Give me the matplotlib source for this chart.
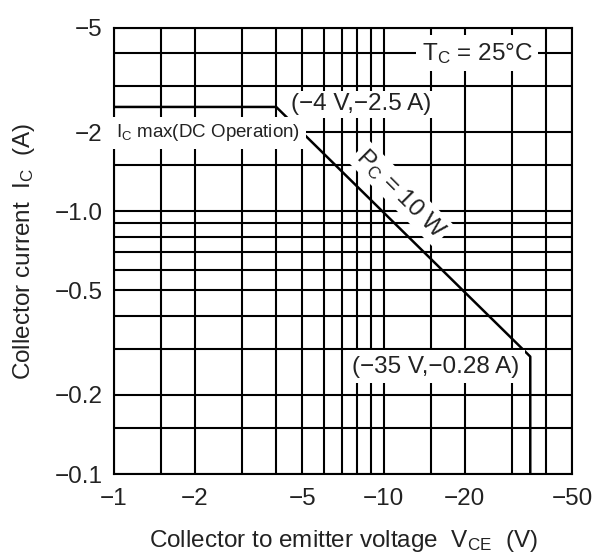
import matplotlib
matplotlib.use("Agg")
import matplotlib.pyplot as plt
from matplotlib.ticker import FixedLocator, NullFormatter

plt.rcParams['font.family'] = ['Liberation Sans', 'DejaVu Sans']
plt.rcParams['mathtext.fontset'] = 'custom'
plt.rcParams['mathtext.rm'] = 'Liberation Sans'
plt.rcParams['mathtext.it'] = 'Liberation Sans'

# SOA boundary data (magnitudes; labels show negative values)
vce = [1, 4, 35, 35]
ic = [2.5, 2.5, 0.28, 0.1]

x_ticks = [1, 2, 5, 10, 20, 50]
x_labels = ['\u22121', '\u22122', '\u22125', '\u221210', '\u221220', '\u221250']
y_ticks = [0.1, 0.2, 0.5, 1.0, 2, 5]
y_labels = ['\u22120.1', '\u22120.2', '\u22120.5', '\u22121.0', '\u22122', '\u22125']
x_grid = [1.5, 3, 4, 6, 7, 8, 9, 15, 30, 40]
y_grid = [0.15, 0.3, 0.4, 0.6, 0.7, 0.8, 0.9, 1.5, 3, 4]

FS = 17.5

fig = plt.figure(figsize=(5.99, 5.58), dpi=100)
ax = fig.add_axes([0.190, 0.1505, 0.765, 0.7995])
ax.set_xscale('log')
ax.set_yscale('log')
ax.set_xlim(1, 50)
ax.set_ylim(0.1, 5)

ax.xaxis.set_major_locator(FixedLocator(x_ticks))
ax.set_xticklabels(x_labels)
ax.xaxis.set_minor_locator(FixedLocator(x_grid))
ax.xaxis.set_minor_formatter(NullFormatter())
ax.yaxis.set_major_locator(FixedLocator(y_ticks))
ax.set_yticklabels(y_labels)
ax.yaxis.set_minor_locator(FixedLocator(y_grid))
ax.yaxis.set_minor_formatter(NullFormatter())
ax.tick_params(which='both', length=0, labelsize=FS, colors='#222222')
ax.tick_params(axis='x', pad=10)
ax.tick_params(axis='y', pad=8)

ax.grid(True, which='both', color='black', lw=1.5)
ax.set_axisbelow(True)
for s in ax.spines.values():
    s.set_linewidth(1.5)

ax.plot(vce, ic, color='black', lw=1.8, zorder=3)

tc = '#222222'
ax.text(22.2, 4.0, r'T$_\mathrm{C}$ = 25°C', ha='center', va='center', fontsize=FS,
        color=tc, bbox=dict(facecolor='white', edgecolor='none', pad=4), zorder=4)
ax.text(4.55, 2.56, '(\u22124 V,\u22122.5 A)', ha='left', va='center', fontsize=FS,
        color=tc, bbox=dict(facecolor='white', edgecolor='none', pad=2), zorder=4)
ax.text(1.02, 1.99, r'I$_\mathrm{C}$ max(DC Operation)', ha='left', va='center',
        fontsize=13.5, color=tc,
        bbox=dict(facecolor='white', edgecolor='none', pad=4), zorder=4)
ax.text(11.6, 1.17, r'P$_\mathrm{C}$ = 10 W', ha='center', va='center', fontsize=FS,
        color=tc, rotation=-45, rotation_mode='anchor',
        bbox=dict(facecolor='white', edgecolor='none', pad=2), zorder=4)
ax.text(15.6, 0.256, '(\u221235 V,\u22120.28 A)', ha='center', va='center', fontsize=FS,
        color=tc, bbox=dict(facecolor='white', edgecolor='none', pad=4), zorder=4)

fig.text(0.573, 0.031, r'Collector to emitter voltage  V$_\mathrm{CE}$  (V)', ha='center',
         va='center', fontsize=FS, color=tc)
fig.text(0.040, 0.55, r'Collector current  I$_\mathrm{C}$  (A)', ha='center', va='center',
         fontsize=FS, color=tc, rotation=90)

fig.savefig('out.png', dpi=100)
